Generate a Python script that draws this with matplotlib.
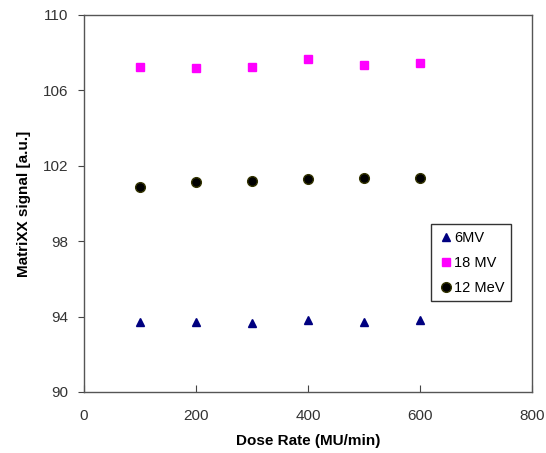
import matplotlib
matplotlib.use("Agg")
import matplotlib.pyplot as plt

plt.rcParams['font.family'] = ['Liberation Sans', 'DejaVu Sans']

dose_rate = [100, 200, 300, 400, 500, 600]
mv6 = [93.73, 93.73, 93.68, 93.80, 93.73, 93.84]
mv18 = [107.26, 107.19, 107.24, 107.65, 107.35, 107.47]
mev12 = [100.86, 101.12, 101.21, 101.28, 101.37, 101.34]

fig = plt.figure(figsize=(5.46, 4.53), dpi=100)
ax = fig.add_axes([0.1538, 0.1347, 0.8205, 0.8322])

ax.plot(dose_rate, mv6, linestyle='none', marker='^', markersize=6,
        color='#000080', label='6MV')
ax.plot(dose_rate, mv18, linestyle='none', marker='s', markersize=6,
        color='#ff00ff', label='18 MV')
ax.plot(dose_rate, mev12, linestyle='none', marker='o', markersize=7,
        markerfacecolor='black', markeredgecolor='#333300', label='12 MeV')

ax.set_xlim(0, 800)
ax.set_ylim(90, 110)
ax.set_xticks([0, 200, 400, 600, 800])
ax.set_yticks([90, 94, 98, 102, 106, 110])
ax.tick_params(axis='x', direction='in', length=5, labelsize=11, pad=12,
               colors='#444444', labelcolor='#333333')
ax.tick_params(axis='y', direction='out', length=4, labelsize=11, pad=7,
               colors='#444444', labelcolor='#333333')
for s in ax.spines.values():
    s.set_color('#555555')
    s.set_linewidth(1.0)

ax.set_xlabel('Dose Rate (MU/min)', fontsize=11, fontweight='bold', labelpad=8)
ax.set_ylabel('MatriXX signal [a.u.]', fontsize=11, fontweight='bold', labelpad=9)

leg = ax.legend(loc='upper left', bbox_to_anchor=(0.775, 0.445), fontsize=10.5,
                frameon=True, fancybox=False, handletextpad=0.0,
                handlelength=1.1, borderpad=0.45, labelspacing=0.75,
                borderaxespad=0)
leg.get_frame().set_edgecolor('black')
leg.get_frame().set_linewidth(1.0)

fig.savefig('out.png', dpi=100)
